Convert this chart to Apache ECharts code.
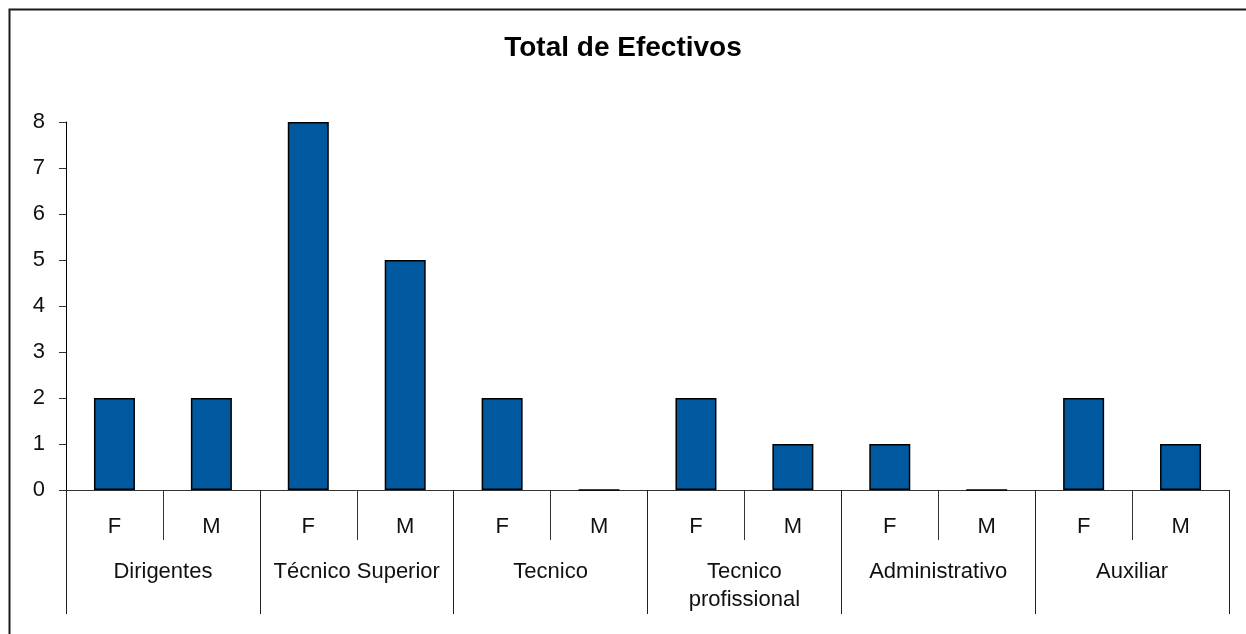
<!DOCTYPE html>
<html>
<head>
<meta charset="utf-8">
<script src="https://cdn.jsdelivr.net/npm/echarts@6/dist/echarts.min.js"></script>
<style>html,body{margin:0;padding:0;background:#fff}#c{width:1246px;height:634px}</style>
</head>
<body>
<div id="c"></div>
<script>
const titleText = 'Total de Efectivos';
const groups = ['Dirigentes', 'Técnico Superior', 'Tecnico', 'Tecnico\nprofissional', 'Administrativo', 'Auxiliar'];
const sexes = ['F', 'M'];
const values = [2, 2, 8, 5, 2, 0, 2, 1, 1, 0, 2, 1];
const yTicks = [0, 1, 2, 3, 4, 5, 6, 7, 8];

const categories = [];
groups.forEach(() => sexes.forEach(s => categories.push(s)));

const FONT = 'Liberation Sans, Arial, sans-serif';
const chart = echarts.init(document.getElementById('c'));
chart.setOption({
  animation: false,
  backgroundColor: '#fff',
  title: {
    text: titleText, left: 'center', top: 29,
    textStyle: { fontFamily: FONT, fontSize: 28, fontWeight: 'bold', color: '#000' }
  },
  graphic: [{
    type: 'rect', left: 7, top: 7, shape: { width: 1260, height: 660 },
    style: { fill: null, stroke: '#1a1a1a', lineWidth: 2 }, silent: true, z: 100
  }],
  grid: { left: 66, right: 17, top: 122, bottom: 144, containLabel: false },
  xAxis: [{
    type: 'category', data: categories, position: 'bottom', offset: 0,
    axisLine: { show: true, lineStyle: { color: '#333', width: 1 } },
    axisTick: { show: true, interval: 0, length: 50, lineStyle: { color: '#333' } },
    axisLabel: { interval: 0, margin: 26, fontFamily: FONT, fontSize: 22, color: '#111', lineHeight: 22 },
    splitLine: { show: false }
  }, {
    type: 'category', data: groups, position: 'bottom', offset: 0,
    axisLine: { show: false },
    axisTick: { show: true, interval: 0, length: 124, lineStyle: { color: '#222' } },
    axisLabel: { interval: 0, margin: 68, fontFamily: FONT, fontSize: 22, color: '#111', lineHeight: 28 },
    splitLine: { show: false }
  }],
  yAxis: {
    type: 'value', min: yTicks[0], max: yTicks[yTicks.length - 1], interval: 1,
    axisLine: { show: true, lineStyle: { color: '#000', width: 1 } },
    axisTick: { show: true, length: 7, lineStyle: { color: '#333' } },
    axisLabel: { margin: 21, fontFamily: FONT, fontSize: 22, color: '#111' },
    splitLine: { show: false }
  },
  series: [{
    type: 'bar', xAxisIndex: 0, data: values, barWidth: 41,
    itemStyle: { color: '#00599F', borderColor: '#000', borderWidth: 1.5 }
  }]
});
</script>
</body>
</html>
